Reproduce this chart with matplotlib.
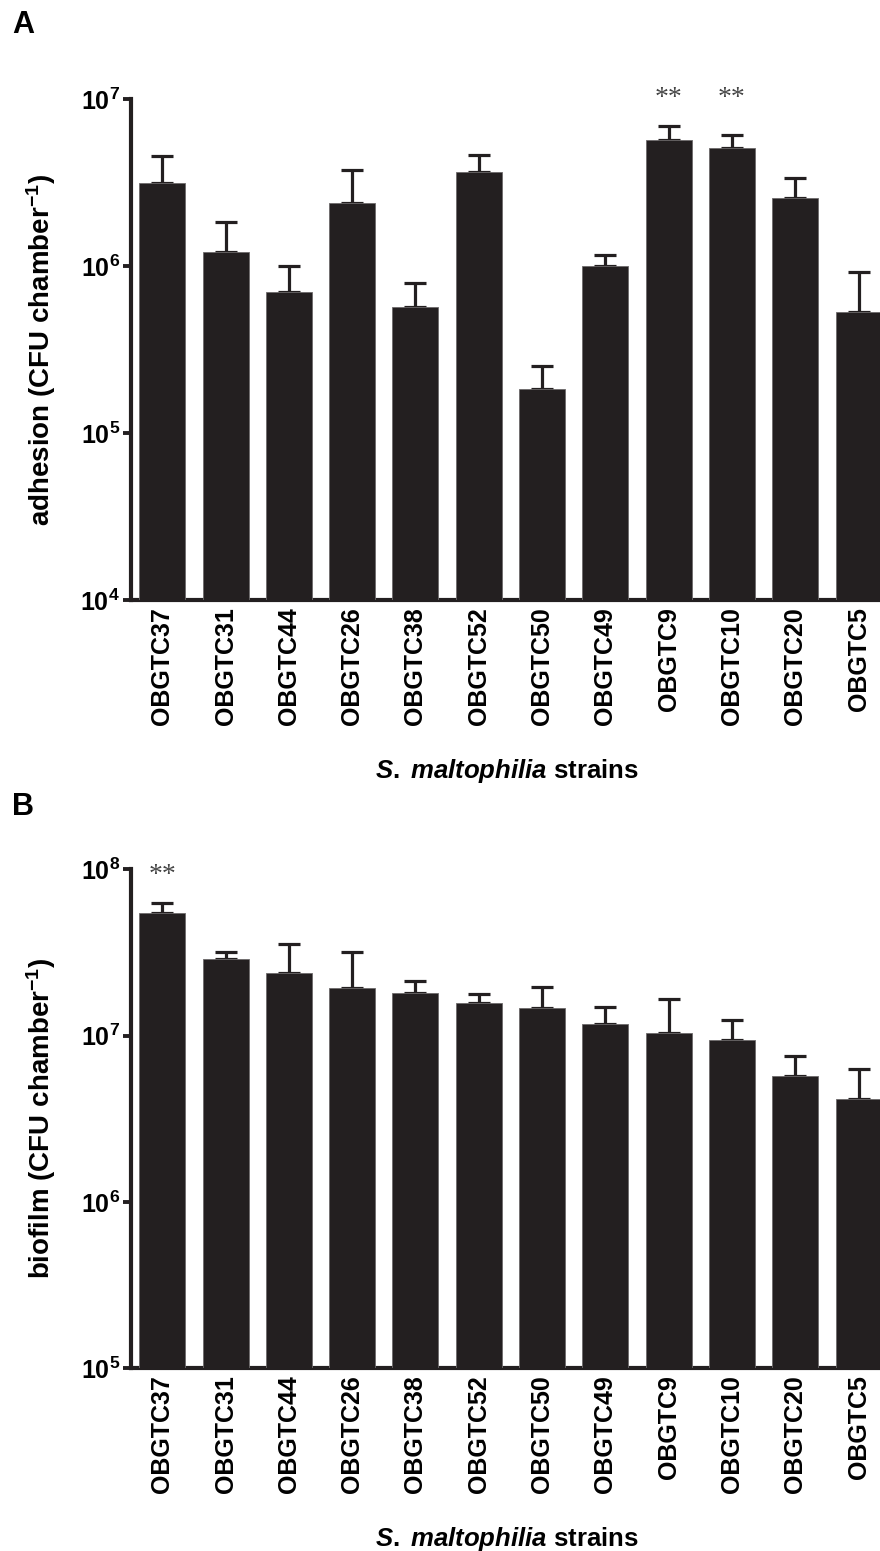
import matplotlib
matplotlib.use("Agg")
import matplotlib.pyplot as plt
import matplotlib.transforms as mtransforms
from matplotlib.ticker import FixedLocator, NullLocator
import numpy as np

plt.rcParams['font.family'] = ['Liberation Sans', 'DejaVu Sans']
plt.rcParams['mathtext.fontset'] = 'custom'
plt.rcParams['mathtext.rm'] = 'Liberation Sans:bold'
plt.rcParams['mathtext.bf'] = 'Liberation Sans:bold'
plt.rcParams['mathtext.it'] = 'Liberation Sans:italic:bold'

strains = ['OBGTC37', 'OBGTC31', 'OBGTC44', 'OBGTC26', 'OBGTC38', 'OBGTC52',
           'OBGTC50', 'OBGTC49', 'OBGTC9', 'OBGTC10', 'OBGTC20', 'OBGTC5']

adhesion_mean = [3.15e6, 1.22e6, 7.0e5, 2.4e6, 5.7e5, 3.68e6,
                 1.85e5, 1.0e6, 5.74e6, 5.14e6, 2.56e6, 5.36e5]
adhesion_err_top = [4.61e6, 1.85e6, 1.0e6, 3.78e6, 7.96e5, 4.66e6,
                    2.54e5, 1.17e6, 6.92e6, 6.15e6, 3.37e6, 9.23e5]
adhesion_sig = ['', '', '', '', '', '', '', '', '**', '**', '', '']

biofilm_mean = [5.48e7, 2.89e7, 2.39e7, 1.93e7, 1.80e7, 1.57e7,
                1.47e7, 1.17e7, 1.04e7, 9.4e6, 5.74e6, 4.18e6]
biofilm_err_top = [6.25e7, 3.17e7, 3.54e7, 3.18e7, 2.13e7, 1.78e7,
                   1.97e7, 1.49e7, 1.66e7, 1.25e7, 7.54e6, 6.27e6]
biofilm_sig = ['**', '', '', '', '', '', '', '', '', '', '', '']

adhesion_ticks = [1e4, 1e5, 1e6, 1e7]
adhesion_ticklabels = [r'$\mathbf{10^{4}}$', r'$\mathbf{10^{5}}$', r'$\mathbf{10^{6}}$', r'$\mathbf{10^{7}}$']
biofilm_ticks = [1e5, 1e6, 1e7, 1e8]
biofilm_ticklabels = [r'$\mathbf{10^{5}}$', r'$\mathbf{10^{6}}$', r'$\mathbf{10^{7}}$', r'$\mathbf{10^{8}}$']

BAR = '#231f20'
W, H = 880, 1551
fig = plt.figure(figsize=(W / 100, H / 100), dpi=100)

def make_panel(rect, means, errtop, sig, ticks, ticklabels, ylabel, letter, letter_y, star_y):
    ax = fig.add_axes(rect)
    x = np.arange(len(strains))
    ax.bar(x, means, width=0.727, color=BAR, edgecolor='#6d6a6b', linewidth=0.6, zorder=3)
    up = np.array(errtop) - np.array(means)
    ax.errorbar(x, means, yerr=[np.zeros_like(up), up], fmt='none', ecolor=BAR,
                elinewidth=2.3, capsize=8, capthick=2.3, zorder=2)
    ax.set_yscale('log')
    ax.set_ylim(ticks[0], ticks[-1])
    ax.set_xlim(-0.494, 11.37)
    ax.yaxis.set_major_locator(FixedLocator(ticks))
    ax.yaxis.set_minor_locator(NullLocator())
    ax.set_yticklabels(ticklabels, fontsize=18)
    ax.set_xticks(x)
    ax.set_xticklabels(strains, rotation=90, fontsize=18, fontweight='bold', va='top')
    ax.tick_params(axis='x', length=0, pad=5)
    ax.tick_params(axis='y', length=6, width=2.8, pad=2, color=BAR)
    for s in ['top', 'right']:
        ax.spines[s].set_visible(False)
    for s in ['left', 'bottom']:
        ax.spines[s].set_linewidth(3)
        ax.spines[s].set_color(BAR)
    ax.set_ylabel(ylabel, fontsize=20, fontweight='bold')
    ax.yaxis.set_label_coords(-0.097, 0.5)
    ax.set_xlabel(r'$\it{S.\;maltophilia}$ strains', fontsize=18.5, fontweight='bold')
    ax.xaxis.set_label_coords(0.5, -0.314)
    trans = mtransforms.blended_transform_factory(ax.transData, ax.transAxes)
    for xi, s in zip(x, sig):
        if s:
            ax.text(xi, star_y, s, transform=trans, ha='center', va='center',
                    fontsize=20, family='Liberation Serif', color='#444444', clip_on=False)
    fig.text(12 / W, 1 - letter_y / H, letter, fontsize=22, fontweight='bold', va='center', ha='left')
    return ax

axA = make_panel([131 / W, 1 - 600 / H, 751 / W, 500.5 / H], adhesion_mean, adhesion_err_top,
                 adhesion_sig, adhesion_ticks, adhesion_ticklabels,
                 r'adhesion (CFU chamber$^{\mathbf{-1}}$)', 'A', 25, 1.002)
axB = make_panel([131 / W, 1 - 1368.3 / H, 751 / W, 499 / H], biofilm_mean, biofilm_err_top,
                 biofilm_sig, biofilm_ticks, biofilm_ticklabels,
                 r'biofilm (CFU chamber$^{\mathbf{-1}}$)', 'B', 807, 0.988)

fig.savefig('out.png', dpi=100)
